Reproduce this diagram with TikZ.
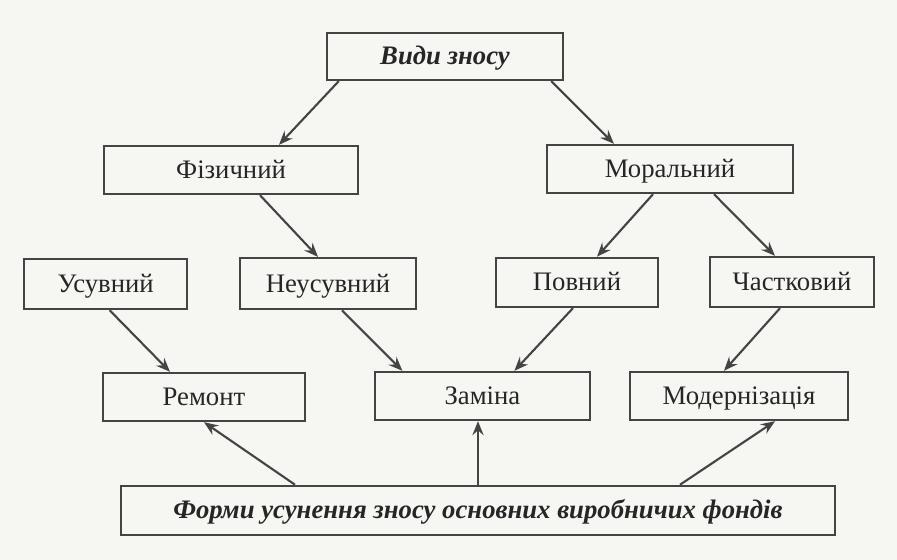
\documentclass[tikz,border=0pt]{standalone}
\usepackage{fontspec}
\setmainfont{Liberation Serif}
\usetikzlibrary{arrows.meta}
\definecolor{inkgray}{HTML}{444444}
\definecolor{paper}{HTML}{F6F6F3}
\begin{document}
\begin{tikzpicture}[
    box/.style={draw=inkgray, line width=1.7pt, minimum height=1.2cm, inner sep=0pt,
      text=black!85, text height=12.5pt, text depth=0.5pt,
      font=\fontsize{19}{22}\selectfont},
    title/.style={box, font=\fontsize{19}{22}\selectfont\bfseries\itshape},
    arr/.style={draw=inkgray, line width=1.5pt, -{Stealth[length=10pt, width=8pt, inset=3.5pt]}}
  ]
    \fill [paper] (0, 0) rectangle (22.425, -14);
    \useasboundingbox (0, 0) rectangle (22.425, -14);
    \node [title, minimum width=5.9cm, minimum height=1.175cm] (vydy) at (11.125, -1.41) {Види зносу};
    \node [box, minimum width=6.35cm] (fiz) at (5.775, -4.25) {Фізичний};
    \node [box, minimum width=6.15cm] (moral) at (16.75, -4.225) {Моральний};
    \node [box, minimum width=4.075cm, minimum height=1.25cm] (usuv) at (2.64, -7.1) {Усувний};
    \node [box, minimum width=4.4cm, minimum height=1.275cm] (neusuv) at (8.2, -7.09) {Неусувний};
    \node [box, minimum width=4.05cm, minimum height=1.225cm] (povn) at (14.425, -7.06) {Повний};
    \node [box, minimum width=4.1cm, minimum height=1.25cm] (chastk) at (19.8, -7.05) {Частковий};
    \node [box, minimum width=5.05cm] (remont) at (5.1, -9.925) {Ремонт};
    \node [box, minimum width=5.375cm] (zamina) at (12.06, -9.9) {Заміна};
    \node [box, minimum width=5.45cm] (modern) at (18.475, -9.9) {Модернізація};
    \node [title, minimum width=17.85cm, minimum height=1.225cm] (forms) at (11.95, -12.76) {Форми усунення зносу основних виробничих фондів};
    % first level
    \draw [arr] ([xshift=0.325cm]vydy.south west) -- ([xshift=1.2cm]fiz.north);
    \draw [arr] ([xshift=-0.325cm]vydy.south east) -- ([xshift=-1.4cm]moral.north);
    % second level
    \draw [arr] ([xshift=0.725cm]fiz.south) -- ([xshift=-0.25cm]neusuv.north);
    \draw [arr] ([xshift=-0.425cm]moral.south) -- ([xshift=0.5cm]povn.north);
    \draw [arr] ([xshift=1.1cm]moral.south) -- ([xshift=-0.425cm]chastk.north);
    % third level
    \draw [arr] ([xshift=0.1cm]usuv.south) -- ([xshift=-0.85cm]remont.north);
    \draw [arr] ([xshift=0.35cm]neusuv.south) -- ([xshift=-2cm]zamina.north);
    \draw [arr] ([xshift=-0.1cm]povn.south) -- ([xshift=0.8cm]zamina.north);
    \draw [arr] ([xshift=-0.3cm]chastk.south) -- ([xshift=-0.375cm]modern.north);
    % from the bottom
    \draw [arr] ([xshift=-4.575cm]forms.north) -- (remont.south);
    \draw [arr] (forms.north) -- (forms.north |- zamina.south);
    \draw [arr] ([xshift=5.05cm]forms.north) -- ([xshift=0.9cm]modern.south);
  \end{tikzpicture}
\end{document}
